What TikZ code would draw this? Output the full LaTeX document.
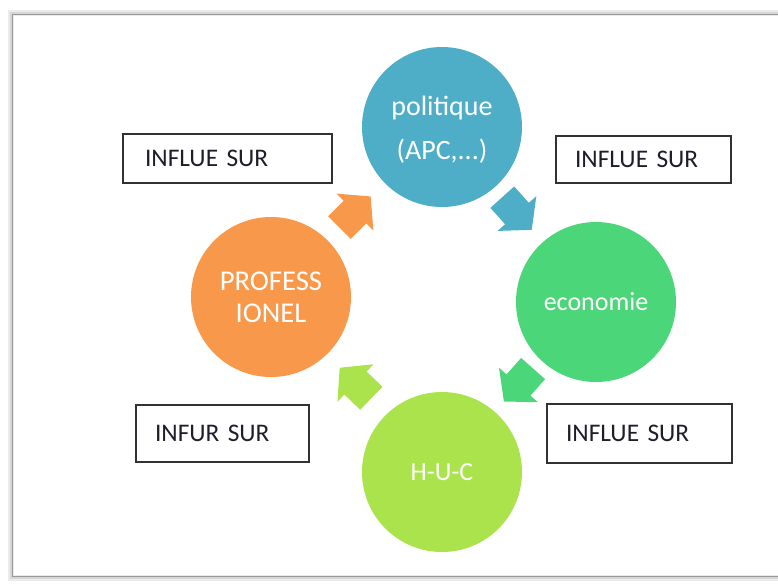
\documentclass[tikz,border=0pt]{standalone}
\usepackage{fontspec}
\setmainfont{Carlito}
\definecolor{cblue}{RGB}{78,174,199}
\definecolor{cgreen}{RGB}{76,214,122}
\definecolor{clime}{RGB}{171,227,76}
\definecolor{corange}{RGB}{248,152,74}
\definecolor{boxline}{RGB}{50,50,50}
\definecolor{boxtext}{RGB}{30,30,40}
\def\pxu{0.75pt}
\tikzset{
  bubble/.style={circle, minimum size=160*\pxu, inner sep=0pt, text=white, align=center},
  infobox/.style={draw=boxline, line width=2*\pxu, fill=white, inner xsep=0pt, align=left,
     text=boxtext, font=\fontsize{19}{21}\selectfont},
  cyclearrow/.pic={\fill (-22,-16) -- (0,-16) -- (0,-26) -- (22,0) -- (0,26) -- (0,16) -- (-22,16) -- cycle;}
}
\begin{document}
\begin{tikzpicture}[x=0.75pt,y=-0.75pt]
\useasboundingbox (0,0) rectangle (778,583);
\clip (0,0) rectangle (778,583);
\fill[white] (0,0) rectangle (778,583);
% frame with soft shadow
\draw[black!8, line width=6*\pxu] (11,13) rectangle (800,578);
\draw[black!16, line width=3*\pxu] (11,13) rectangle (800,577);
\draw[black!40, line width=1*\pxu] (12,14) rectangle (800,576);
% circles
\node[bubble, fill=cblue] (pol) at (442,127) {};
\node[text=white, align=center, font=\fontsize{21}{33}\selectfont] (polt) at (442,130) {politique\\(APC,...)};
\node[bubble, fill=cgreen, font=\fontsize{19.5}{24}\selectfont] (eco) at (596,302) {economie};
\node[bubble, fill=clime, font=\fontsize{19.5}{24}\selectfont] (huc) at (442,472) {H-U-C};
\node[bubble, fill=corange, font=\fontsize{21.5}{24}\selectfont] (pro) at (271,297) {PROFESS\\IONEL};
% arrow anchors
\coordinate (a1) at (517,213.5);
\coordinate (a2) at (518.5,385);
\coordinate (a3) at (355.5,383);
\coordinate (a4) at (355,212);
\pic[cblue, rotate=-48] at (a1) {cyclearrow};
\pic[cgreen, rotate=-131.5] at (a2) {cyclearrow};
\pic[clime, rotate=136] at (a3) {cyclearrow};
\pic[corange, rotate=45] at (a4) {cyclearrow};
% boxes
\node[infobox, minimum width=209*\pxu, minimum height=49*\pxu, text width=165*\pxu] (b1) at (227.5,158.5) {INFLUE SUR};
\node[infobox, minimum width=175*\pxu, minimum height=47*\pxu, text width=137*\pxu] (b2) at (643.5,159.5) {INFLUE SUR};
\node[infobox, minimum width=185*\pxu, minimum height=59*\pxu, text width=147*\pxu] (b3) at (639.5,433.5) {INFLUE SUR};
\node[infobox, minimum width=173*\pxu, minimum height=57*\pxu, text width=135*\pxu] (b4) at (222.5,433.5) {INFUR SUR};
\end{tikzpicture}
\end{document}
